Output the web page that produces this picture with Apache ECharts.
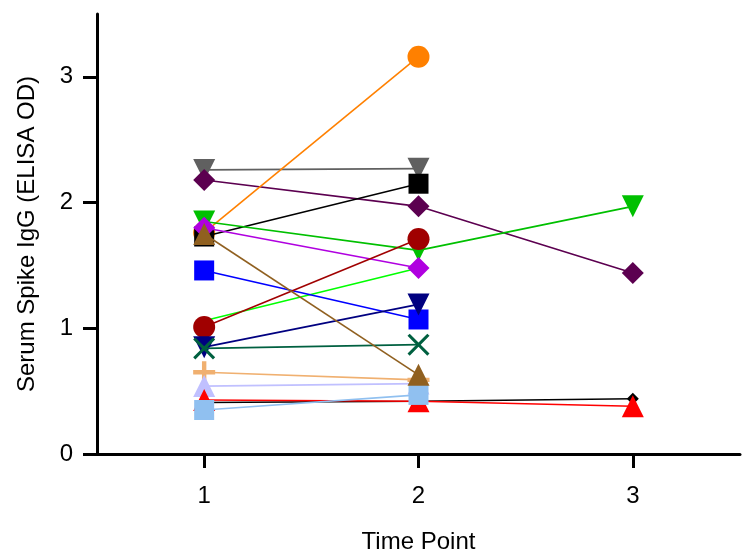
<!DOCTYPE html>
<html><head><meta charset="utf-8">
<script src="https://cdn.jsdelivr.net/npm/echarts@6/dist/echarts.min.js"></script>
<style>html,body{margin:0;background:#fff}#c{width:749px;height:557px}</style>
</head><body><div id="c"></div>
<script>
const timePoints = [1, 2, 3];
const xTicks = [1, 2, 3];
const yTicks = [0, 1, 2, 3];

const TRI_DOWN = 'path://M0,0 L10,0 L5,9 Z';
const CROSS = 'path://M1,0 L5,4 L9,0 L10,1 L6,5 L10,9 L9,10 L5,6 L1,10 L0,9 L4,5 L0,1 Z';
const PLUS = 'path://M4,0 L6,0 L6,4 L10,4 L10,6 L6,6 L6,10 L4,10 L4,6 L0,6 L0,4 L4,4 Z';

const names = ['s1','s2','s3','s4','s5','s6','s7','s8','s9','s10','s11','s12','s13','s14','s15','s16'];
const colors = ['#606060','#5c0050','#ff8000','#000000','#00c000','#00ff00','#b000e0','#906020','#0000ff','#a00000','#000080','#006040','#f0b070','#c0c0ff','#ff0000','#90c0f0'];
const symbols = ['s:'+TRI_DOWN,'diamond','circle','rect','s:'+TRI_DOWN,'none','diamond','triangle','rect','circle','s:'+TRI_DOWN,'s:'+CROSS,'s:'+PLUS,'triangle','triangle','rect'];
const values = [
  [2.26, 2.27, null],
  [2.18, 1.97, 1.44],
  [1.76, 3.16, null],
  [1.73, 2.15, null],
  [1.85, 1.62, 1.97],
  [1.06, 1.48, null],
  [1.80, 1.48, null],
  [1.75, 0.63, null],
  [1.46, 1.07, null],
  [1.01, 1.71, null],
  [0.85, 1.19, null],
  [0.84, 0.87, null],
  [0.65, 0.59, null],
  [0.54, 0.56, null],
  [0.43, 0.42, 0.38],
  [0.35, 0.47, null]
];
const blackDiamond = [0.41, 0.42, 0.44];

const series = values.map((v, i) => ({
  type: 'line', name: names[i],
  data: timePoints.map((t, j) => v[j] == null ? null : [t, v[j]]).filter(d => d),
  symbol: symbols[i].startsWith('s:') ? symbols[i].slice(2) : symbols[i],
  symbolSize: symbols[i] === 'rect' ? 20 : 22,
  showAllSymbol: true,
  itemStyle: {color: colors[i], borderWidth: 0, opacity: 1},
  lineStyle: {color: colors[i], width: 1.6},
  z: names[i] === 's8' ? 30 : 2 + i
}));
series.splice(14, 0, {
  type: 'line', name: 'blk', data: timePoints.map((t, j) => [t, blackDiamond[j]]),
  symbol: 'diamond', symbolSize: 12, itemStyle: {color: '#000', borderWidth: 0},
  lineStyle: {color: '#000', width: 1.6}
});

const chart = echarts.init(document.getElementById('c'));
chart.setOption({
  animation: false,
  grid: {left: 97, right: 9, top: 14, bottom: 103, outerBoundsMode: 'none', containLabel: false},
  xAxis: {
    type: 'value', min: 0.5, max: 3.5,
    name: 'Time Point', nameLocation: 'middle', nameGap: 76,
    nameTextStyle: {fontSize: 24, color: '#000', fontFamily: 'Liberation Sans'},
    axisLine: {lineStyle: {color: '#000', width: 3}},
    axisTick: {customValues: xTicks, length: 14, lineStyle: {width: 3, color: '#000'}},
    axisLabel: {customValues: xTicks, fontSize: 24, color: '#000', margin: 30, fontFamily: 'Liberation Sans'},
    splitLine: {show: false}
  },
  yAxis: {
    type: 'value', min: 0, max: 3.5,
    name: 'Serum Spike IgG (ELISA OD)', nameLocation: 'middle', nameGap: 58,
    nameTextStyle: {fontSize: 24, color: '#000', fontFamily: 'Liberation Sans'},
    axisLine: {show: true, lineStyle: {color: '#000', width: 3}},
    axisTick: {show: true, customValues: yTicks, length: 14, lineStyle: {width: 3, color: '#000'}},
    axisLabel: {customValues: yTicks, fontSize: 24, color: '#000', margin: 24, fontFamily: 'Liberation Sans'},
    splitLine: {show: false}
  },
  series
});
</script></body></html>
